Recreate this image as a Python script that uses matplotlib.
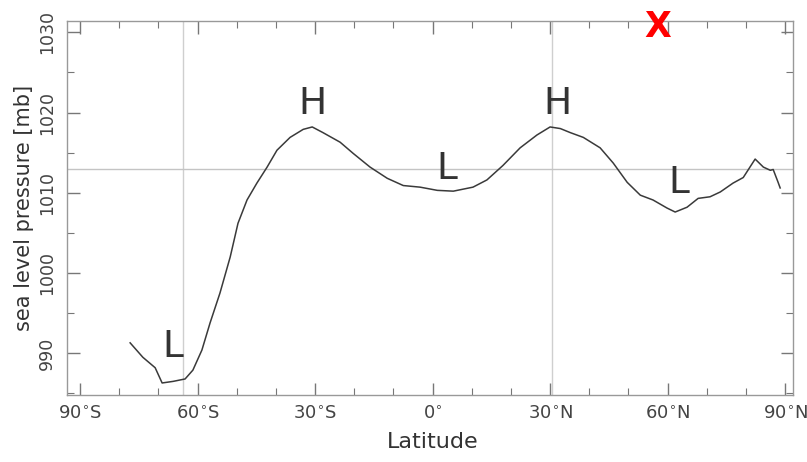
import numpy as np
import matplotlib
matplotlib.use('Agg')
import matplotlib.pyplot as plt

# zonal mean sea level pressure
lat = [-72.9, -69.8, -66.8, -65.1, -62.4, -59.5, -57.6, -55.4, -53.4, -51.0,
       -48.5, -46.6, -44.4, -42.0, -39.5, -37.1, -33.9, -30.7, -28.5, -25.9,
       -21.7, -18.5, -14.4, -10.2, -6.3, -2.2, 2.0, 5.9, 10.7, 14.1,
       18.0, 22.2, 26.3, 29.5, 32.0, 34.4, 37.6, 41.7, 44.9, 48.3,
       51.5, 54.6, 58.0, 60.0, 62.9, 65.6, 68.5, 71.0, 74.1, 76.6,
       79.5, 81.5, 83.2, 83.9, 85.1, 85.6]
slp = [991.3, 989.5, 988.2, 986.3, 986.5, 986.8, 987.9, 990.4, 993.8, 997.5,
       1002.0, 1006.2, 1009.1, 1011.2, 1013.2, 1015.3, 1016.9, 1017.9, 1018.2, 1017.5,
       1016.3, 1014.9, 1013.2, 1011.8, 1010.9, 1010.7, 1010.3, 1010.2, 1010.7, 1011.6,
       1013.4, 1015.6, 1017.2, 1018.2, 1018.0, 1017.5, 1016.9, 1015.6, 1013.7, 1011.3,
       1009.7, 1009.1, 1008.1, 1007.6, 1008.2, 1009.3, 1009.5, 1010.1, 1011.2, 1011.9,
       1014.2, 1013.2, 1012.8, 1012.9, 1011.3, 1010.6]

tick_lats = [-90, -60, -30, 0, 30, 60, 90]
tick_labels = ['90$^{\\circ}$S', '60$^{\\circ}$S', '30$^{\\circ}$S', '0$^{\\circ}$',
               '30$^{\\circ}$N', '60$^{\\circ}$N', '90$^{\\circ}$N']
yticks = [990, 1000, 1010, 1020, 1030]

labels = ['H', 'H', 'L', 'L', 'L']
label_lat = [-28.5, 31.2, -62.4, 4.3, 61.0]
label_slp = [1021.0, 1021.0, 990.8, 1012.9, 1011.2]


def tickpos(L):
    # the tick labels in the original sit on a slightly squeezed scale
    return (80 + (np.asarray(L) + 90) * 705 / 180 - 429) / 4.1


fig = plt.figure(figsize=(8.07, 4.62), dpi=100)
ax = fig.add_axes([0.083, 0.145, 0.9, 0.8095])

ax.axvline(-60, color='#cfcfcf', lw=1, zorder=0)
ax.axvline(30, color='#cfcfcf', lw=1, zorder=0)
ax.axhline(1013, color='#c4c4c4', lw=1, zorder=0)

ax.plot(lat, slp, color='#3a3a3a', lw=1.1)

for t, x, y in zip(labels, label_lat, label_slp):
    ax.text(x, y, t, fontsize=27, color='#333333', ha='center', va='center')

ax.set_xlim(-88.3, 88.8)
ax.set_ylim(984.8, 1031.4)

ax.set_xticks(tickpos(tick_lats))
ax.set_xticklabels(tick_labels, fontsize=13, color='#444444')
ax.set_xticks(tickpos(np.arange(-80, 90, 10)), minor=True)
ax.set_yticks(yticks)
ax.set_yticklabels([str(v) for v in yticks], fontsize=12.5, color='#444444',
                   rotation=90, va='center')
ax.set_yticks(np.arange(985, 1031, 5), minor=True)

ax.tick_params(which='both', direction='in', top=True, right=True, color='#777777')
ax.tick_params(which='major', length=9, width=1)
ax.tick_params(which='minor', length=5, width=0.8)
ax.tick_params(axis='x', pad=7)
ax.tick_params(axis='y', pad=8)

for s in ax.spines.values():
    s.set_color('#999999')
    s.set_linewidth(1)

ax.set_xlabel('Latitude', fontsize=16, color='#333333')
ax.set_ylabel('sea level pressure [mb]', fontsize=15, color='#333333')
ax.xaxis.set_label_coords(0.504, -0.10)
ax.yaxis.set_label_coords(-0.046, 0.5)

fig.text(658 / 807, 1 - 27 / 462, 'X', color='#ff0000', fontsize=25,
         fontweight='bold', ha='center', va='center')

fig.savefig('out.png', dpi=100)
